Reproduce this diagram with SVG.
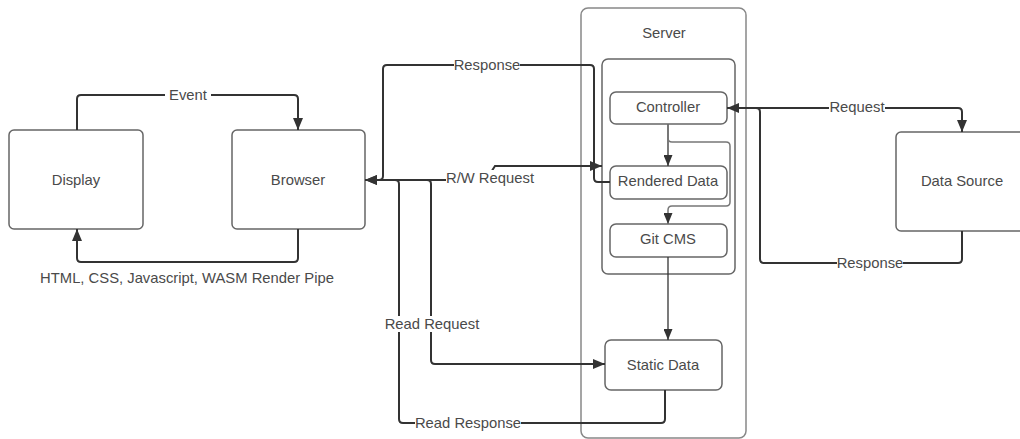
<svg xmlns="http://www.w3.org/2000/svg" width="1020" height="439" viewBox="0 0 1020 439">
  <defs>
    <marker id="arrow" viewBox="0 0 12 10" refX="12" refY="5" markerWidth="12" markerHeight="10" markerUnits="userSpaceOnUse" orient="auto">
      <path d="M0,0 L12,5 L0,10 Z" fill="#333"/>
    </marker>
    <marker id="arrow-sm" viewBox="0 0 11 9" refX="11" refY="4.5" markerWidth="11" markerHeight="9" markerUnits="userSpaceOnUse" orient="auto">
      <path d="M0,0 L11,4.5 L0,9 Z" fill="#333"/>
    </marker>
  </defs>
  <style>
    .box { fill: #fff; stroke: #666; stroke-width: 1.5; }
    .frame { fill: none; stroke: #888; stroke-width: 1.5; }
    .label { font-family: "Liberation Sans", Arial, sans-serif; font-size: 14.8px; fill: #4a4a4a; text-anchor: middle; dominant-baseline: central; }
    .wire { fill: none; stroke: #333; stroke-width: 2; marker-end: url(#arrow); }
    .thin { fill: none; stroke: #333; stroke-width: 1.3; marker-end: url(#arrow-sm); }
    .branch { fill: none; stroke: #777; stroke-width: 1.5; marker-end: url(#arrow-sm); }
    .tag { fill: #fff; }
  </style>
  <rect width="1020" height="439" fill="#fff"/>

  <!-- server containers -->
  <g id="server">
    <rect class="frame" x="581" y="8" width="165" height="430" rx="7"/>
    <text class="label" x="664" y="33">Server</text>
  </g>
  <g id="server-core">
    <rect class="box" x="602" y="59" width="133" height="215" rx="6"/>
  </g>

  <!-- nodes -->
  <g id="display">
    <rect class="box" x="9" y="130" width="134" height="99" rx="5"/>
    <text class="label" x="76" y="180">Display</text>
  </g>
  <g id="browser">
    <rect class="box" x="232" y="130" width="133" height="99" rx="5"/>
    <text class="label" x="298" y="180">Browser</text>
  </g>
  <g id="controller">
    <rect class="box" x="610" y="92" width="117" height="32" rx="6"/>
    <text class="label" x="668" y="107">Controller</text>
  </g>
  <g id="rendered-data">
    <rect class="box" x="610" y="166" width="117" height="33" rx="6"/>
    <text class="label" x="668" y="181">Rendered Data</text>
  </g>
  <g id="git-cms">
    <rect class="box" x="610" y="224" width="117" height="33" rx="6"/>
    <text class="label" x="668" y="239">Git CMS</text>
  </g>
  <g id="static-data">
    <rect class="box" x="605" y="340" width="117" height="50" rx="6"/>
    <text class="label" x="663" y="365">Static Data</text>
  </g>
  <g id="data-source">
    <rect class="box" x="896" y="132" width="132" height="99" rx="5"/>
    <text class="label" x="962" y="181">Data Source</text>
  </g>

  <!-- connectors -->
  <g id="connectors">
    <!-- Display / Browser loop -->
    <path class="wire" d="M77,130 V99 Q77,95 81,95 H294 Q298,95 298,99 V130"/>
    <path class="wire" d="M298,229 V258 Q298,262 294,262 H81 Q77,262 77,258 V229"/>

    <!-- Browser / Server -->
    <path class="wire" d="M610,182 H598 Q594,182 594,178 V69 Q594,65 590,65 H387 Q383,65 383,69 V176 Q383,180 379,180 H365"/>
    <path class="wire" d="M365,180 H486 L495,166 H602"/>
    <path class="wire" d="M400,180 H427 Q431,180 431,184 V360 Q431,364 435,364 H605"/>
    <path class="wire" d="M665,390 V419 Q665,423 661,423 H403 Q399,423 399,419 V184 Q399,180 395,180 H365"/>

    <!-- inside the server -->
    <path class="thin" d="M668,124 V166"/>
    <path class="branch" d="M668,124 V138 Q668,142 672,142 H726 Q730,142 730,146 V202 Q730,206 726,206 H672 Q668,206 668,210 V224"/>
    <path class="thin" d="M668,257 V340"/>

    <!-- Controller / Data Source -->
    <path class="wire" d="M727,108 H958 Q962,108 962,112 V132"/>
    <path class="wire" d="M962,231 V259 Q962,263 958,263 H764 Q760,263 760,259 V112 Q760,108 756,108 H727"/>

    <!-- connector labels -->
    <rect class="tag" x="165" y="87" width="46" height="16"/>
    <text class="label" x="188" y="95">Event</text>
    <text class="label" x="187" y="278">HTML, CSS, Javascript, WASM Render Pipe</text>
    <rect class="tag" x="454" y="57" width="66" height="16"/>
    <text class="label" x="487" y="65">Response</text>
    <rect class="tag" x="446" y="170" width="88" height="16"/>
    <text class="label" x="490" y="178">R/W Request</text>
    <rect class="tag" x="385" y="316" width="94" height="16"/>
    <text class="label" x="432" y="324">Read Request</text>
    <rect class="tag" x="415" y="415" width="106" height="16"/>
    <text class="label" x="468" y="423">Read Response</text>
    <rect class="tag" x="829" y="99" width="56" height="16"/>
    <text class="label" x="857" y="107">Request</text>
    <rect class="tag" x="837" y="255" width="66" height="16"/>
    <text class="label" x="870" y="263">Response</text>
  </g>
</svg>
